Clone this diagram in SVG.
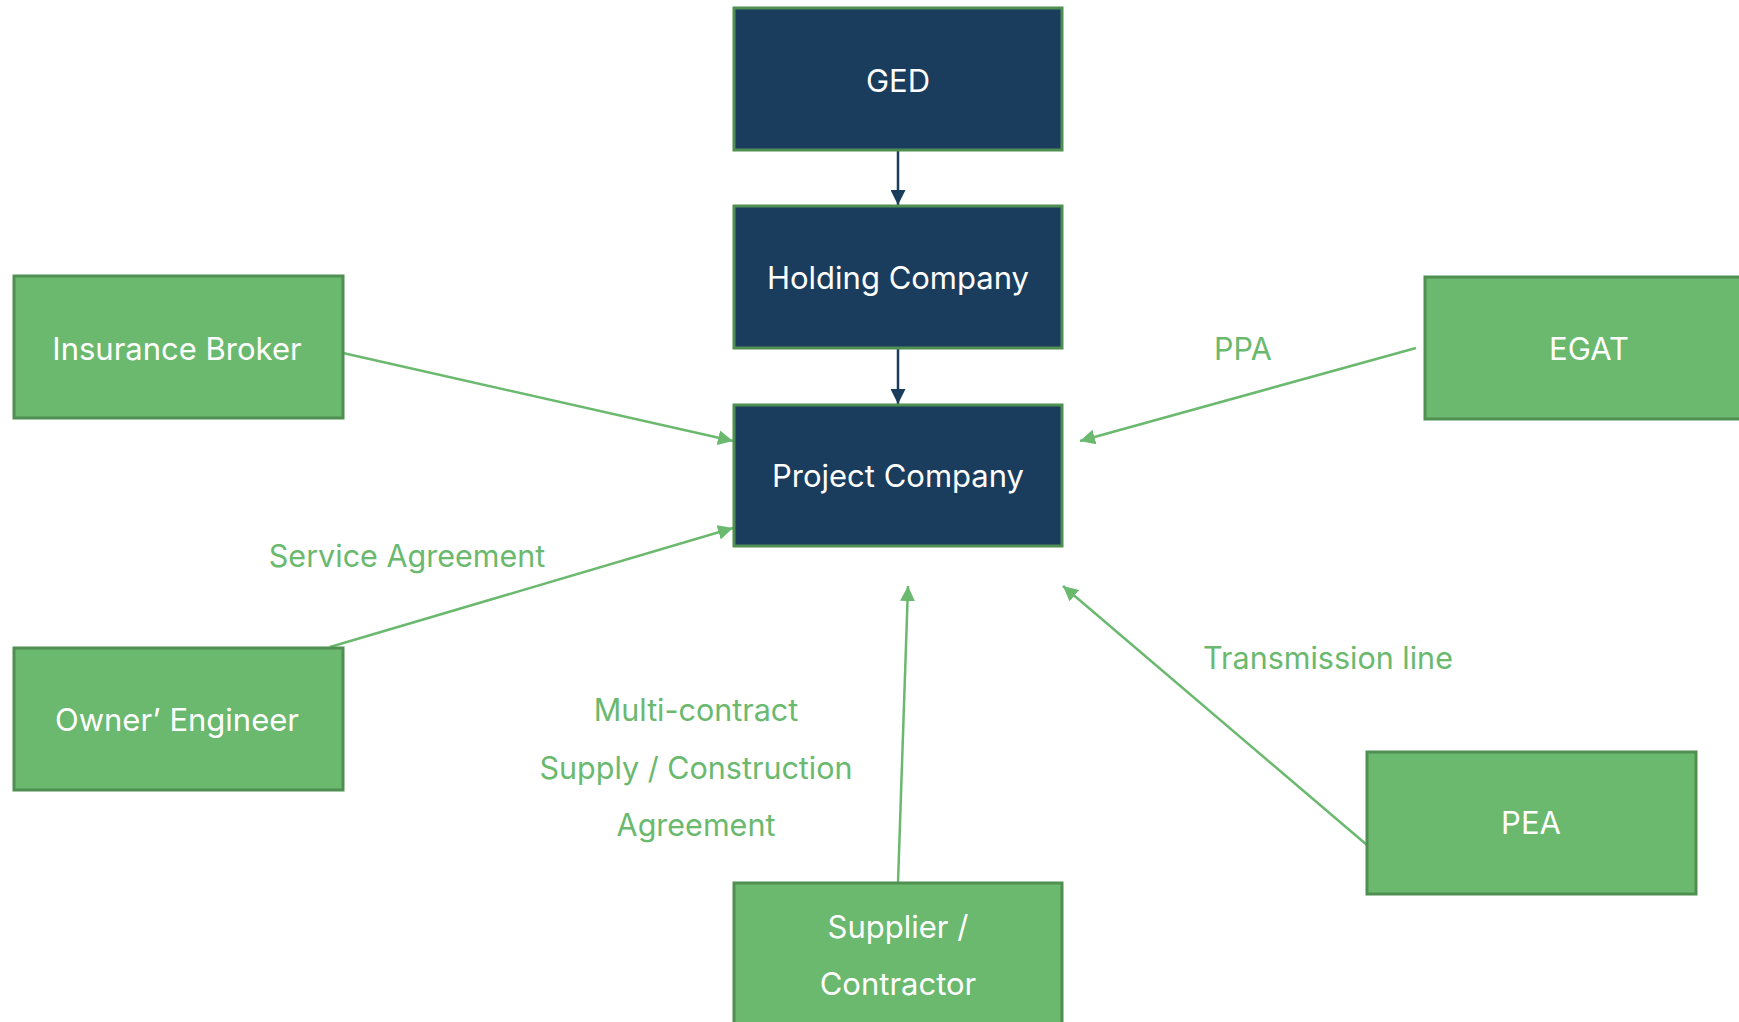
<svg xmlns="http://www.w3.org/2000/svg" width="1739" height="1022" viewBox="0 0 1739 1022">
<style>
.nav{fill:#1a3c5d;stroke:#4f8f51;stroke-width:3}
.grn{fill:#6ab96e;stroke:#4f8f51;stroke-width:3}
.t{font-family:Inter,"Noto Sans","Liberation Sans",sans-serif;font-size:31px;fill:#ffffff;text-anchor:middle;dominant-baseline:central}
.l{font-family:Inter,"Noto Sans","Liberation Sans",sans-serif;font-size:30.5px;fill:#6ab96e;text-anchor:middle;dominant-baseline:central}
.cn{stroke:#1a3c5d;stroke-width:2.5;fill:none}
.cg{stroke:#6ab96e;stroke-width:2.5;fill:none}
</style>
<defs>
<marker id="an" viewBox="0 0 10 10" refX="10" refY="5" markerWidth="6" markerHeight="6" orient="auto" markerUnits="strokeWidth"><path d="M0,0 L10,5 L0,10 z" fill="#1a3c5d"/></marker>
<marker id="ag" viewBox="0 0 10 10" refX="10" refY="5" markerWidth="6" markerHeight="6" orient="auto" markerUnits="strokeWidth"><path d="M0,0 L10,5 L0,10 z" fill="#6ab96e"/></marker>
</defs>
<rect width="1739" height="1022" fill="#ffffff"/>
<g id="connectors">
<line class="cn" x1="898" y1="151" x2="898" y2="205" marker-end="url(#an)"/>
<line class="cn" x1="898" y1="349" x2="898" y2="404" marker-end="url(#an)"/>
<line class="cg" x1="343" y1="353" x2="733" y2="441" marker-end="url(#ag)"/>
<line class="cg" x1="330" y1="647" x2="733" y2="528" marker-end="url(#ag)"/>
<line class="cg" x1="1416" y1="348" x2="1080" y2="441" marker-end="url(#ag)"/>
<line class="cg" x1="898" y1="883" x2="908" y2="586" marker-end="url(#ag)"/>
<line class="cg" x1="1367" y1="845" x2="1063" y2="586" marker-end="url(#ag)"/>
</g>
<g id="labels">
<text class="l" x="1243" y="348">PPA</text>
<text class="l" x="407" y="555">Service Agreement</text>
<text class="l" x="1328" y="657">Transmission line</text>
<text class="l" x="696" y="709">Multi-contract</text>
<text class="l" x="696" y="767">Supply / Construction</text>
<text class="l" x="696" y="824">Agreement</text>
</g>
<g id="ged"><rect class="nav" x="734" y="8" width="328" height="142"/><text class="t" x="898" y="80">GED</text></g>
<g id="holding"><rect class="nav" x="734" y="206" width="328" height="142"/><text class="t" x="898" y="277">Holding Company</text></g>
<g id="project"><rect class="nav" x="734" y="405" width="328" height="141"/><text class="t" x="898" y="475">Project Company</text></g>
<g id="insurance"><rect class="grn" x="14" y="276" width="329" height="142"/><text class="t" x="177" y="348">Insurance Broker</text></g>
<g id="owner"><rect class="grn" x="14" y="648" width="329" height="142"/><text class="t" x="177" y="719">Owner’ Engineer</text></g>
<g id="egat"><rect class="grn" x="1425" y="277" width="328" height="142"/><text class="t" x="1589" y="348">EGAT</text></g>
<g id="pea"><rect class="grn" x="1367" y="752" width="329" height="142"/><text class="t" x="1531" y="822">PEA</text></g>
<g id="supplier"><rect class="grn" x="734" y="883" width="328" height="145"/><text class="t" x="898" y="926">Supplier /</text><text class="t" x="898" y="983">Contractor</text></g>
</svg>
